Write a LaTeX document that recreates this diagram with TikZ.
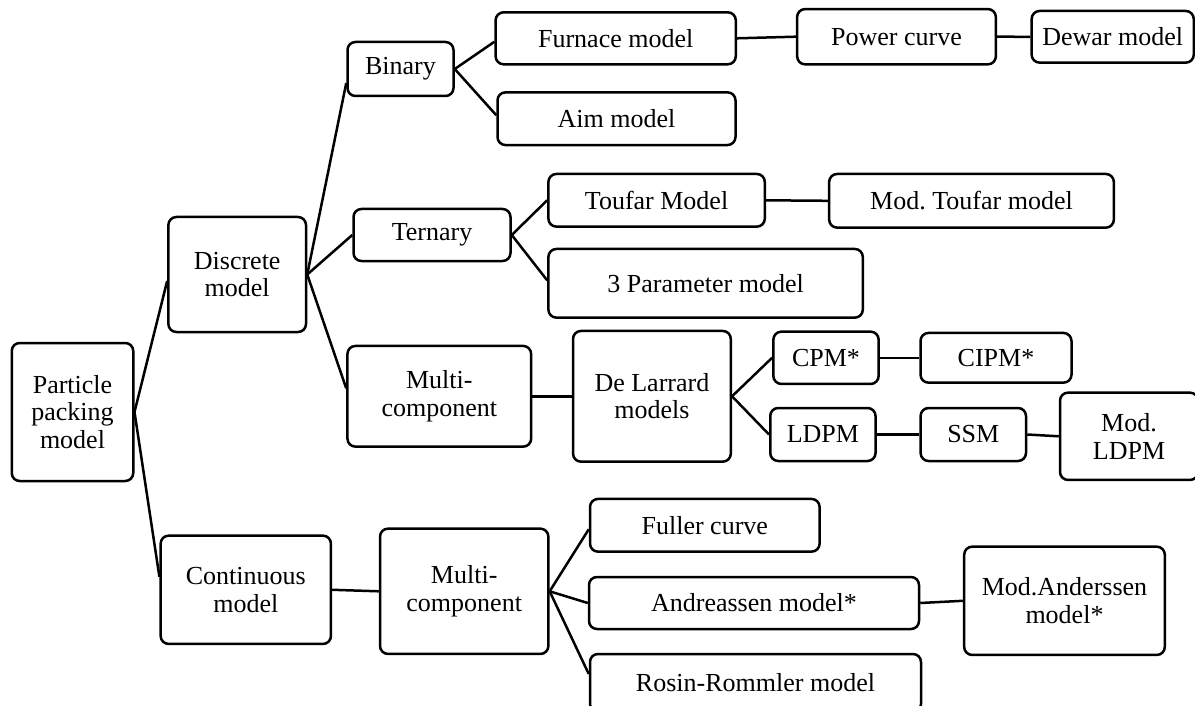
\documentclass[tikz,border=0pt]{standalone}
\usepackage{fontspec}
\setmainfont{Liberation Serif}
\usetikzlibrary{calc}

\tikzset{
  box/.style={draw=black, line width=2.5pt, rounded corners=8pt, fill=white,
    align=center, inner sep=2pt,
    font=\fontsize{26}{27.5}\selectfont\frenchspacing},
  link/.style={draw=black, line width=2.5pt}
}

\newcommand{\bx}[6]{\node[box, minimum width=#4pt, minimum height=#5pt] (#1) at (#2,#3) {#6};}

\begin{document}
\begin{tikzpicture}[x=1pt, y=-1pt]
\useasboundingbox (0,0) rectangle (1195,706);

% root and first level
\bx{pp}{72.5}{412}{121.5}{138}{Particle\\packing\\model}
\bx{disc}{237.2}{274.5}{137.6}{115}{Discrete\\model}
\bx{cont}{245.8}{589.8}{170.3}{108.3}{Continuous\\model}

% discrete branch
\bx{bin}{400.5}{69}{106}{54}{Binary}
\bx{tern}{432}{235}{157}{52}{Ternary}
\bx{mcA}{439.3}{396.3}{183.7}{100.7}{Multi-\\component}

\bx{furn}{615.7}{38.3}{240.2}{52}{Furnace model}
\bx{aim}{616.5}{118.7}{238}{52.7}{Aim model}
\bx{power}{896.5}{36.7}{198.7}{55.3}{Power curve}
\bx{dewar}{1112.7}{36.8}{162.1}{51.7}{Dewar model}

\bx{touf}{656.6}{200.3}{216.4}{52.7}{Toufar Model}
\bx{mtouf}{971.5}{200.8}{284.7}{53.7}{Mod. Toufar model}
\bx{three}{705.6}{283.3}{314.4}{68.7}{3 Parameter model}

\bx{dl}{651.9}{396.3}{157.8}{130.7}{De Larrard\\models}
\bx{cpm}{826}{357.8}{105.3}{52.3}{CPM*}
\bx{cipm}{996}{357.8}{151}{49.7}{CIPM*}
\bx{ldpm}{822.9}{434.5}{105.3}{53}{LDPM}
\bx{ssm}{973.3}{434.5}{105.4}{53}{SSM}
\bx{mldpm}{1129}{436.3}{138}{87.3}{Mod.\\LDPM}

% continuous branch
\bx{mcB}{464.2}{591.3}{168.4}{125.3}{Multi-\\component}
\bx{full}{704.8}{525.3}{229.6}{52.7}{Fuller curve}
\bx{andr}{754}{603}{330}{52}{Andreassen model*}
\bx{mand}{1064.5}{600.8}{200.6}{108.3}{Mod.Anderssen\\model*}
\bx{rosin}{755.5}{683}{331}{58}{Rosin-Rommler model}

% connectors
\draw[link] (pp.east) -- ($(disc.west)+(0,6.5)$);
\draw[link] (pp.east) -- ($(cont.west)+(0,-13)$);

\draw[link] (disc.east) -- ($(bin.west)+(0,14)$);
\draw[link] (disc.east) -- (tern.west);
\draw[link] (disc.east) -- ($(mcA.west)+(0,-8)$);

\draw[link] (bin.east) -- ($(furn.west)+(0,3.5)$);
\draw[link] (bin.east) -- ($(aim.west)+(0,-3.5)$);
\draw[link] (furn.east) -- (power.west);
\draw[link] (power.east) -- (dewar.west);

\draw[link] (tern.east) -- (touf.west);
\draw[link] (tern.east) -- ($(three.west)+(0,-3)$);
\draw[link] (touf.east) -- (mtouf.west);

\draw[link] (mcA.east) -- (dl.west);
\draw[link] (dl.east) -- (cpm.west);
\draw[link] (dl.east) -- (ldpm.west);
\draw[link] (cpm.east) -- (cipm.west);
\draw[link] (ldpm.east) -- (ssm.west);
\draw[link] (ssm.east) -- (mldpm.west);

\draw[link] (cont.east) -- (mcB.west);
\draw[link] (mcB.east) -- ($(full.west)+(0,4)$);
\draw[link] (mcB.east) -- (andr.west);
\draw[link] (mcB.east) -- ($(rosin.west)+(0,-9)$);
\draw[link] (andr.east) -- (mand.west);
\end{tikzpicture}
\end{document}
